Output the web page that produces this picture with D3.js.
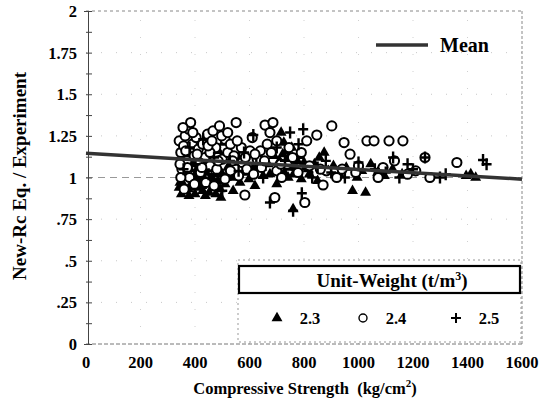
<!DOCTYPE html>
<html>
<head>
<meta charset="utf-8">
<script src="https://cdn.jsdelivr.net/npm/d3@7"></script>
<style>
body { margin: 0; background: #fff; }
text { font-family: "Liberation Serif", "Times New Roman", serif; font-weight: bold; }
</style>
</head>
<body>
<div id="chart"></div>
<script>
// compressive strength (kg/cm2), ratio New-Rc Eq. / Experiment
const tri23 = [
  [345,0.97],[352,1.02],[360,0.95],[368,1.0],[375,0.93],[382,1.05],[390,0.97],[398,1.01],[405,0.94],[412,1.06],
  [420,0.98],[428,0.92],[436,1.03],[444,0.96],[452,0.91],[460,1.0],[468,0.94],[476,0.9],[484,0.98],[492,0.93],
  [500,1.02],[510,0.96],[355,1.1],[372,1.14],[394,1.08],[418,1.12],[446,1.09],[486,1.16],[505,1.21],[520,1.06],
  [535,1.0],[550,1.09],[565,0.97],[580,1.03],[598,0.99],[615,1.06],[632,1.11],[650,1.01],[668,1.08],[690,1.13],
  [705,1.05],[716,1.27],[726,1.21],[736,1.16],[748,1.06],[762,1.02],[775,1.1],[790,0.99],[806,1.06],[820,1.02],
  [838,1.08],[856,1.12],[874,1.15],[890,1.04],[908,1.07],[930,1.02],[955,1.06],[978,0.92],[995,1.0],[1012,1.04],
  [1026,0.91],[1045,1.08],[1070,1.03],[1095,1.01],[1125,1.05],[1160,1.02],[1395,1.01],[1412,1.02],[1430,1.0],
  [620,0.95],[540,0.92],[760,0.81],[700,0.96],[850,0.98],
  [342,0.94],[350,0.9],[365,0.92],[378,0.89],[388,0.95],[400,0.9],[410,0.99],[425,0.95],[438,0.89],[455,0.96],
  [465,0.99],[480,0.94],[495,0.88],[362,1.03],[386,1.0],[408,1.03],[432,1.0],[458,1.05],[478,1.02],[515,1.0],
  [710,1.1],[722,1.14],[742,1.12],[755,1.18],[770,1.06],[785,1.13],[800,1.09],[815,1.05],[742,1.0],[728,1.03],
  [560,1.12],[590,1.07],[645,1.06],[675,1.02],
  [348,1.12],[366,1.08],[380,1.11],[402,1.12],[422,1.08],[440,1.13],[470,1.08]
];
const circ24 = [
  [342,1.22],[348,1.15],[352,1.05],[358,1.19],[364,1.25],[370,1.1],[377,1.29],[384,1.33],[390,1.2],[397,1.13],
  [404,1.24],[412,1.17],[420,1.03],[428,1.2],[436,1.12],[446,1.26],[455,1.07],[466,1.28],[476,1.18],[490,1.31],
  [500,1.11],[510,1.23],[520,1.15],[530,1.04],[543,1.13],[551,1.33],[560,1.01],[573,1.09],[583,0.895],[590,1.05],
  [602,1.16],[615,1.02],[628,1.11],[644,1.06],[657,1.315],[665,1.2],[686,1.33],[693,0.88],[700,1.04],[718,1.0],
  [738,1.08],[758,1.12],[778,1.03],[803,0.85],[820,1.07],[847,1.255],[870,0.955],[882,1.04],[902,1.31],[920,1.0],
  [947,1.21],[969,1.14],[990,1.03],[1031,1.22],[1057,1.22],[1072,1.0],[1112,1.22],[1163,1.22],[1244,1.12],[1262,1.0],
  [1361,1.09],[1132,1.1],[1180,1.02],[380,1.0],[398,0.96],[440,0.97],[470,0.95],[510,0.99],[360,0.93],[348,1.0],
  [372,1.06],[415,1.09],[455,1.15],[480,1.05],[530,1.2],[570,1.18],[610,1.24],[640,1.16],[675,1.27],[700,1.22],
  [745,1.18],[790,1.15],[810,1.22],[860,1.05],[940,1.05],[1000,1.07],[1090,1.06],[1210,1.04],
  [345,1.08],[356,1.3],[366,1.16],[392,1.27],[408,1.14],[425,1.06],[448,1.19],[462,1.22],[485,1.1],[498,1.25],
  [520,1.27],[538,1.1],[555,1.22],[585,1.12],[620,1.14],[655,1.1],[680,1.15],[715,1.08]
];
const plus25 = [
  [614,1.255],[749,1.27],[797,1.29],[675,0.85],[760,0.8],[792,0.905],[1127,1.12],[1244,1.12],[1299,1.0],[1457,1.105],
  [1470,1.08],[358,1.05],[402,1.08],[450,1.02],[500,0.92],[528,1.1],[580,1.15],[650,1.0],[700,1.18],[730,1.1],
  [830,1.0],[850,1.06],[900,1.03],[950,1.0],[1000,1.09],[1060,1.05],[1100,1.03],[1200,1.05],[1150,1.0],[1180,1.08],
  [380,1.18],[430,1.23],[470,1.12],[560,1.04],[625,1.08],[780,1.2],[880,1.1],[1320,1.02]
];
const meanX = [0, 1600];
const meanY = [1.145, 0.99];
const xTicks = [0, 200, 400, 600, 800, 1000, 1200, 1400, 1600];
const yTicks = [0, 0.25, 0.5, 0.75, 1, 1.25, 1.5, 1.75, 2];
const yTickLabels = ["0", ".25", ".5", ".75", "1", "1.25", "1.5", "1.75", "2"];
const legendKeys = ["2.3", "2.4", "2.5"];

const W = 541, H = 405;
const svg = d3.select("#chart").append("svg").attr("width", W).attr("height", H);

const x = d3.scaleLinear().domain([0, 1600]).range([86, 522]);
const y = d3.scaleLinear().domain([0, 2]).range([344, 11]);

// faint dotted grid
svg.append("g").selectAll("line").data(yTicks.slice(1)).enter().append("line")
  .attr("x1", x(0)).attr("x2", x(1600)).attr("y1", d => y(d)).attr("y2", d => y(d))
  .attr("stroke", d => d === 1 ? "#999" : (d === 2 ? "#888" : "#c8c8c8"))
  .attr("stroke-width", 1)
  .attr("stroke-dasharray", d => d === 1 ? "7,5" : (d === 2 ? "3,3" : "1,14"));
svg.append("g").selectAll("line").data(xTicks.slice(1)).enter().append("line")
  .attr("x1", d => x(d)).attr("x2", d => x(d)).attr("y1", y(0)).attr("y2", y(2))
  .attr("stroke", d => d === 1600 ? "#888" : "#d0d0d0")
  .attr("stroke-dasharray", d => d === 1600 ? "3,2" : "1,16");
svg.append("line").attr("x1", x(0)).attr("x2", x(1600)).attr("y1", y(0)).attr("y2", y(0))
  .attr("stroke", "#777").attr("stroke-dasharray", "4,2");

// left axis
const yAxis = d3.axisLeft(y).tickValues(d3.range(0, 2.001, 0.125)).tickSize(4).tickFormat("");
const ga = svg.append("g").attr("transform", `translate(${x(0) + 2},0)`).call(yAxis);
ga.selectAll("line").attr("stroke", "#444").attr("x2", 4).attr("x1", -2);
ga.select(".domain").attr("stroke", "#444");
svg.append("g").selectAll("text").data(yTicks).enter().append("text")
  .attr("x", 77).attr("y", d => y(d) + 6).attr("text-anchor", "end")
  .attr("font-size", 16.5).text((d, i) => yTickLabels[i]);

svg.append("g").selectAll("text").data(xTicks).enter().append("text")
  .attr("x", d => x(d)).attr("y", 368).attr("text-anchor", "middle")
  .attr("font-size", 16.5).text(d => d);

// axis titles
svg.append("text").attr("transform", "translate(26,176) rotate(-90)")
  .attr("text-anchor", "middle").attr("font-size", 19).text("New-Rc Eq. / Experiment");
const xt = svg.append("text").attr("x", 305).attr("y", 394).attr("text-anchor", "middle").attr("font-size", 16.5);
xt.append("tspan").text("Compressive Strength\u00a0\u00a0(kg/cm");
xt.append("tspan").attr("font-size", 11).attr("dy", -7).text("2");
xt.append("tspan").attr("dy", 7).text(")");

// points
const triPath = d3.symbol().type(d3.symbolTriangle).size(52);
svg.append("g").selectAll("path").data(tri23).enter().append("path")
  .attr("d", triPath).attr("transform", d => `translate(${x(d[0])},${y(d[1])})`)
  .attr("fill", "#000");
svg.append("g").selectAll("circle").data(circ24).enter().append("circle")
  .attr("cx", d => x(d[0])).attr("cy", d => y(d[1])).attr("r", 4.6)
  .attr("fill", "#fff").attr("stroke", "#000").attr("stroke-width", 2);
svg.append("g").selectAll("path").data(plus25).enter().append("path")
  .attr("d", d => `M${x(d[0]) - 5},${y(d[1])}h10M${x(d[0])},${y(d[1]) - 6}v12`)
  .attr("stroke", "#000").attr("stroke-width", 2.4);

// mean line
svg.append("line")
  .attr("x1", x(meanX[0])).attr("y1", y(meanY[0])).attr("x2", x(meanX[1])).attr("y2", y(meanY[1]))
  .attr("stroke", "#333").attr("stroke-width", 3.5);

// mean legend
svg.append("line").attr("x1", 376).attr("x2", 428).attr("y1", 45).attr("y2", 45)
  .attr("stroke", "#333").attr("stroke-width", 3.5);
svg.append("text").attr("x", 440).attr("y", 52).attr("font-size", 20).text("Mean");

// unit-weight legend
svg.append("rect").attr("x", 238).attr("y", 260).attr("width", 283).attr("height", 82)
  .attr("fill", "#fff").attr("stroke", "#999").attr("stroke-dasharray", "2,3");
svg.append("rect").attr("x", 239).attr("y", 266).attr("width", 281).attr("height", 27)
  .attr("fill", "#fff").attr("stroke", "#000").attr("stroke-width", 2.2);
const lt = svg.append("text").attr("x", 392).attr("y", 287).attr("text-anchor", "middle").attr("font-size", 19);
lt.append("tspan").text("Unit-Weight (t/m");
lt.append("tspan").attr("font-size", 12).attr("dy", -7).text("3");
lt.append("tspan").attr("dy", 7).text(")");

const keyX = [277, 363, 456];
const lg = svg.append("g").selectAll("g").data(legendKeys).enter().append("g")
  .attr("transform", (d, i) => `translate(${keyX[i]},318)`);
lg.append("text").attr("x", 33).attr("y", 6).attr("text-anchor", "middle").attr("font-size", 16.5).text(d => d);
lg.filter((d, i) => i === 0).append("path").attr("d", triPath).attr("fill", "#000");
lg.filter((d, i) => i === 1).append("circle").attr("r", 4).attr("fill", "none").attr("stroke", "#000").attr("stroke-width", 1.4);
lg.filter((d, i) => i === 2).append("path").attr("d", "M-5,0h10M0,-5v10").attr("stroke", "#000").attr("stroke-width", 2);
</script>
</body>
</html>
